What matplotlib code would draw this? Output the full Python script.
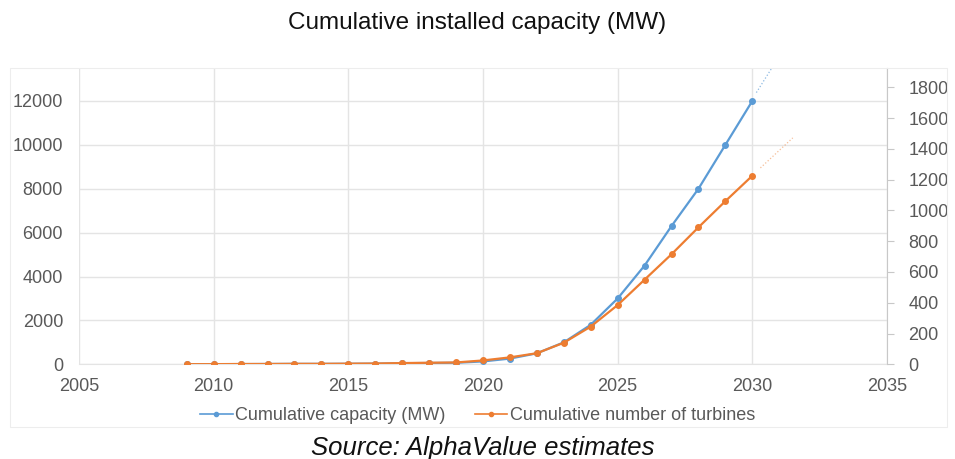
import matplotlib.pyplot as plt
from matplotlib.lines import Line2D
from matplotlib.patches import Rectangle

plt.rcParams['font.family'] = ['Liberation Sans', 'DejaVu Sans']

years = [2009, 2010, 2011, 2012, 2013, 2014, 2015, 2016, 2017, 2018, 2019,
         2020, 2021, 2022, 2023, 2024, 2025, 2026, 2027, 2028, 2029, 2030]
capacity_mw = [5, 5, 10, 15, 20, 20, 25, 30, 50, 60, 70,
               130, 260, 500, 1000, 1800, 3000, 4500, 6300, 8000, 10000, 12000]
turbines = [1, 1, 2, 2, 3, 3, 4, 5, 8, 10, 12,
            25, 45, 72, 140, 245, 385, 550, 715, 890, 1060, 1225]

# forward trend segments beyond the last year
trend_years_cap = [2030.15, 2030.8]
trend_cap = [12380, 13650]
trend_years_turb = [2030.3, 2031.5]
trend_turb = [1276, 1471]

blue = '#5b9bd5'
orange = '#ed7d31'
grey_text = '#595959'
grid_col = '#e4e4e4'

fig = plt.figure(figsize=(9.55, 4.59), dpi=100)
fig.patches.append(Rectangle((10 / 955, 1 - 427 / 459), 937 / 955, 359 / 459,
                             transform=fig.transFigure, fill=False,
                             edgecolor='#ededed', linewidth=0.8))

ax = fig.add_axes([79 / 955, 1 - 364.3 / 459, 808 / 955, 296.3 / 459])
ax2 = ax.twinx()

ax.plot(years, capacity_mw, color=blue, lw=1.6, marker='o', ms=4,
        label='Cumulative capacity (MW)', zorder=3)
ax.plot(trend_years_cap, trend_cap, color=blue, lw=0.9, ls=':', alpha=0.7)
ax2.plot(years, turbines, color=orange, lw=1.6, marker='o', ms=4,
         label='Cumulative number of turbines', zorder=3)
ax2.plot(trend_years_turb, trend_turb, color=orange, lw=0.9, ls=':', alpha=0.5)

ax.set_xlim(2005, 2035)
ax.set_ylim(0, 13500)
ax2.set_ylim(0, 1925)
ax.set_xticks(range(2005, 2036, 5))
ax.set_yticks(range(0, 12001, 2000))
ax2.set_yticks(range(0, 1801, 200))

ax.grid(True, color=grid_col, lw=1)
ax.set_axisbelow(True)
for s in ['top', 'left', 'right']:
    ax.spines[s].set_visible(False)
ax.spines['bottom'].set_color(grid_col)
for s in ['top', 'left', 'bottom']:
    ax2.spines[s].set_visible(False)
ax2.spines['right'].set_color('#c8c8c8')

ax.tick_params(axis='both', length=0, labelsize=13, colors=grey_text)
ax.tick_params(axis='y', pad=11.5)
ax.tick_params(axis='x', pad=10)
ax2.tick_params(axis='y', length=5, labelsize=13, colors=grey_text, pad=10.5)
ax2.tick_params(axis='y', color='#c8c8c8')

fig.text(0.5, 1 - 23 / 459, 'Cumulative installed capacity (MW)',
         ha='center', va='center', fontsize=17.5, color='#111111')

handles = [Line2D([], [], color=blue, lw=1.2, marker='o', ms=3),
           Line2D([], [], color=orange, lw=1.2, marker='o', ms=3)]
fig.legend(handles, ['Cumulative capacity (MW)', 'Cumulative number of turbines'],
           loc='center', bbox_to_anchor=(0.5, 1 - 416 / 459), ncol=2,
           frameon=False, fontsize=13, labelcolor=grey_text,
           handlelength=1.8, handletextpad=0.15, columnspacing=1.6)

fig.text(0.505, 1 - 448 / 459, 'Source: AlphaValue estimates',
         ha='center', va='center', fontsize=18.5, style='italic', color='#111111')

fig.savefig('out.png', dpi=100)
